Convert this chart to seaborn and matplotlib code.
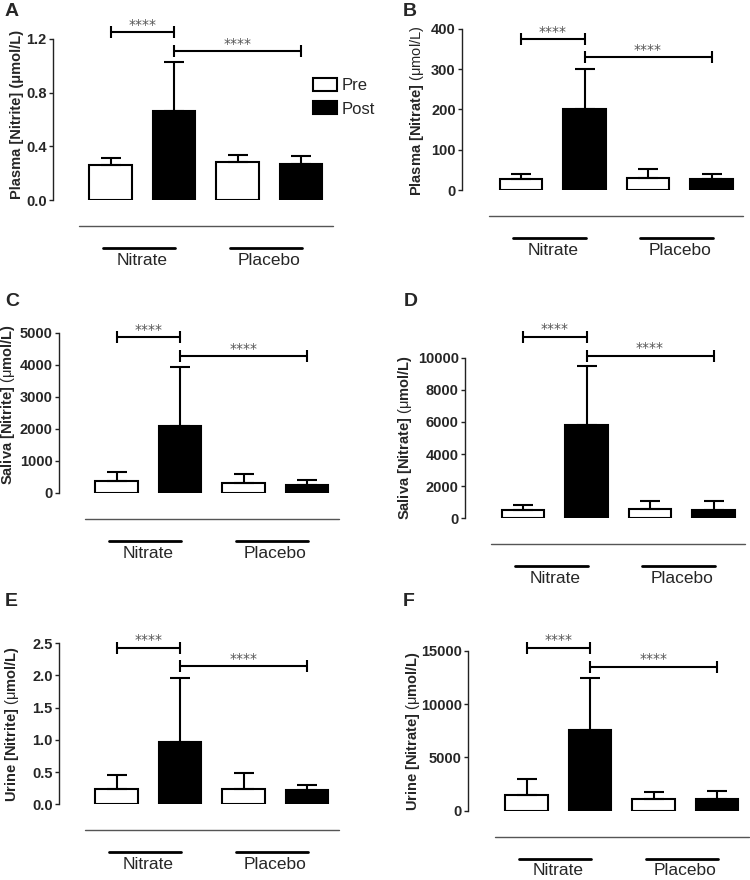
import numpy as np
import pandas as pd
import seaborn as sns
import matplotlib.pyplot as plt
import matplotlib.transforms as mtransforms

# bar order: Nitrate Pre, Nitrate Post, Placebo Pre, Placebo Post
groups = ["Nitrate", "Nitrate", "Placebo", "Placebo"]
times = ["Pre", "Post", "Pre", "Post"]

plasma_nitrite = [0.26, 0.66, 0.28, 0.27]
plasma_nitrite_sd = [0.05, 0.37, 0.055, 0.055]
plasma_nitrate = [27, 200, 31, 27]
plasma_nitrate_sd = [13, 100, 21, 13]
saliva_nitrite = [375, 2090, 310, 250]
saliva_nitrite_sd = [290, 1840, 280, 165]
saliva_nitrate = [515, 5800, 555, 540]
saliva_nitrate_sd = [335, 3680, 505, 520]
urine_nitrite = [0.23, 0.97, 0.24, 0.22]
urine_nitrite_sd = [0.22, 0.99, 0.24, 0.08]
urine_nitrate = [1470, 7560, 1090, 1070]
urine_nitrate_sd = [1470, 4910, 660, 810]

panels = [
    dict(letter="A", mean=plasma_nitrite, sd=plasma_nitrite_sd,
         ylabel="Plasma [Nitrite] (μmol/L)", bold=True,
         ticks=[0, 0.4, 0.8, 1.2], ticklabels=["0.0", "0.4", "0.8", "1.2"],
         brackets=[1.252, 1.11]),
    dict(letter="B", mean=plasma_nitrate, sd=plasma_nitrate_sd,
         ylabel=r"$\mathbf{Plasma\ [Nitrate]}$ (μmol/L)", bold=False,
         ticks=[0, 100, 200, 300, 400], ticklabels=["0", "100", "200", "300", "400"],
         brackets=[375, 330]),
    dict(letter="C", mean=saliva_nitrite, sd=saliva_nitrite_sd,
         ylabel=r"$\mathbf{Saliva\ [Nitrite]}$ (μ$\mathbf{mol/L)}$", bold=False,
         ticks=[0, 1000, 2000, 3000, 4000, 5000],
         ticklabels=["0", "1000", "2000", "3000", "4000", "5000"],
         brackets=[4866, 4272]),
    dict(letter="D", mean=saliva_nitrate, sd=saliva_nitrate_sd,
         ylabel=r"$\mathbf{Saliva\ [Nitrate]}$ (μ$\mathbf{mol/L)}$", bold=False,
         ticks=[0, 2000, 4000, 6000, 8000, 10000],
         ticklabels=["0", "2000", "4000", "6000", "8000", "10000"],
         brackets=[11310, 10125]),
    dict(letter="E", mean=urine_nitrite, sd=urine_nitrite_sd,
         ylabel=r"$\mathbf{Urine\ [Nitrite]}$ (μ$\mathbf{mol/L)}$", bold=False,
         ticks=[0, 0.5, 1.0, 1.5, 2.0, 2.5],
         ticklabels=["0.0", "0.5", "1.0", "1.5", "2.0", "2.5"],
         brackets=[2.43, 2.147]),
    dict(letter="F", mean=urine_nitrate, sd=urine_nitrate_sd,
         ylabel=r"$\mathbf{Urine\ [Nitrate]}$ (μ$\mathbf{mol/L)}$", bold=False,
         ticks=[0, 5000, 10000, 15000], ticklabels=["0", "5000", "10000", "15000"],
         brackets=[15280, 13500]),
]

# layout in pixels: spine x, zero y, top y, first bar centre, ylabel offset, ylabel y, letter x, letter y
layout = [
    (53, 200, 39, 110.5, 29, 0.53, 5, 11),
    (462, 190, 29, 521, 36, 0.49, 403, 11),
    (59, 493, 332.7, 116.5, 42, 0.55, 5, 301),
    (465, 518.3, 357.7, 523, 51, 0.5, 404, 301),
    (59, 804.3, 643.3, 116.5, 38, 0.5, 5, 601),
    (468, 810.7, 650.7, 526.5, 46, 0.5, 403, 601),
]

sns.set_style("ticks")
plt.rcParams["font.family"] = ["Liberation Sans", "DejaVu Sans"]
plt.rcParams["mathtext.fontset"] = "custom"
plt.rcParams["mathtext.rm"] = "Liberation Sans"
plt.rcParams["mathtext.bf"] = "Liberation Sans:bold"
plt.rcParams["mathtext.it"] = "Liberation Sans:italic"

W, H = 750, 880
PITCH = 127  # pixels per x unit
AX_W = 290

fig = plt.figure(figsize=(7.5, 8.8), dpi=100)

for p, (sx, y0, yt, c0, ldx, ly, lx, lyy) in zip(panels, layout):
    ax = fig.add_axes([sx / W, 1 - y0 / H, AX_W / W, (y0 - yt) / H])
    df = pd.DataFrame({"group": groups, "time": times, "value": p["mean"]})
    sns.barplot(data=df, x="group", y="value", hue="time", hue_order=["Pre", "Post"],
                palette={"Pre": "white", "Post": "black"}, edgecolor="black",
                linewidth=1.5, width=1.0, gap=0.33, errorbar=None, saturation=1,
                legend=False, ax=ax)

    bars_list = list(ax.containers)
    sd = np.array(p["sd"])
    centers = []
    for i, bars in enumerate(bars_list):
        xs = [b.get_x() + b.get_width() / 2 for b in bars]
        hs = [b.get_height() for b in bars]
        err = sd[i::2]
        ax.errorbar(xs, hs, yerr=[np.zeros_like(err), err], fmt="none", ecolor="black",
                    elinewidth=1.5, capsize=7.5, capthick=1.5, zorder=3)
        centers.append(xs)

    x0 = -0.25 - (c0 - sx) / PITCH
    ax.set_xlim(x0, x0 + AX_W / PITCH)
    ax.set_ylim(0, p["ticks"][-1])
    ax.set_yticks(p["ticks"])
    ax.set_yticklabels(p["ticklabels"], fontweight="bold")
    sns.despine(ax=ax, bottom=True)
    ax.spines["left"].set_color("#222222")
    ax.spines["left"].set_linewidth(1)
    ax.tick_params(axis="y", length=3, width=1, pad=1.5, labelsize=10.5, color="#222222")
    ax.tick_params(axis="x", length=0, pad=38, labelsize=12.5)
    ax.set_xlabel("")
    ax.set_ylabel(p["ylabel"], fontsize=10.5, fontweight="bold" if p["bold"] else "normal")
    ax.yaxis.set_label_coords(-ldx / AX_W, ly)

    h_px = y0 - yt
    trans = mtransforms.blended_transform_factory(ax.transData, ax.transAxes)
    ax.plot([-0.5, 1.5], [-26 / h_px] * 2, color="#555555", lw=1,
            transform=trans, clip_on=False)
    for g in (0, 1):
        ax.plot([g - 0.31, g + 0.26], [-48 / h_px] * 2, color="black", lw=2,
                transform=trans, clip_on=False)

    pre_x, post_x = centers
    for (xa, xb), yb in zip([(pre_x[0], post_x[0]), (post_x[0], post_x[1])], p["brackets"]):
        ax.plot([xa, xb], [yb, yb], color="black", lw=1.5, marker="|", markersize=8,
                mew=1.5, clip_on=False)
        ax.annotate("****", xy=((xa + xb) / 2, yb), xytext=(0, 2.5),
                    textcoords="offset points", ha="center", va="baseline",
                    fontsize=10, color="#555555", family="DejaVu Sans",
                    annotation_clip=False)

    if p["letter"] == "A":
        ax.legend(handles=bars_list, labels=["Pre", "Post"], loc="upper left",
                  bbox_to_anchor=(313 / W, 1 - 78 / H), bbox_transform=fig.transFigure,
                  frameon=False, fontsize=12, handlelength=1.45, handleheight=0.8,
                  handletextpad=0.25, labelspacing=0.5, borderpad=0, borderaxespad=0)

    fig.text(lx / W, 1 - lyy / H, p["letter"], fontsize=14, fontweight="bold",
             ha="left", va="center")

fig.savefig("out.png", dpi=100)
